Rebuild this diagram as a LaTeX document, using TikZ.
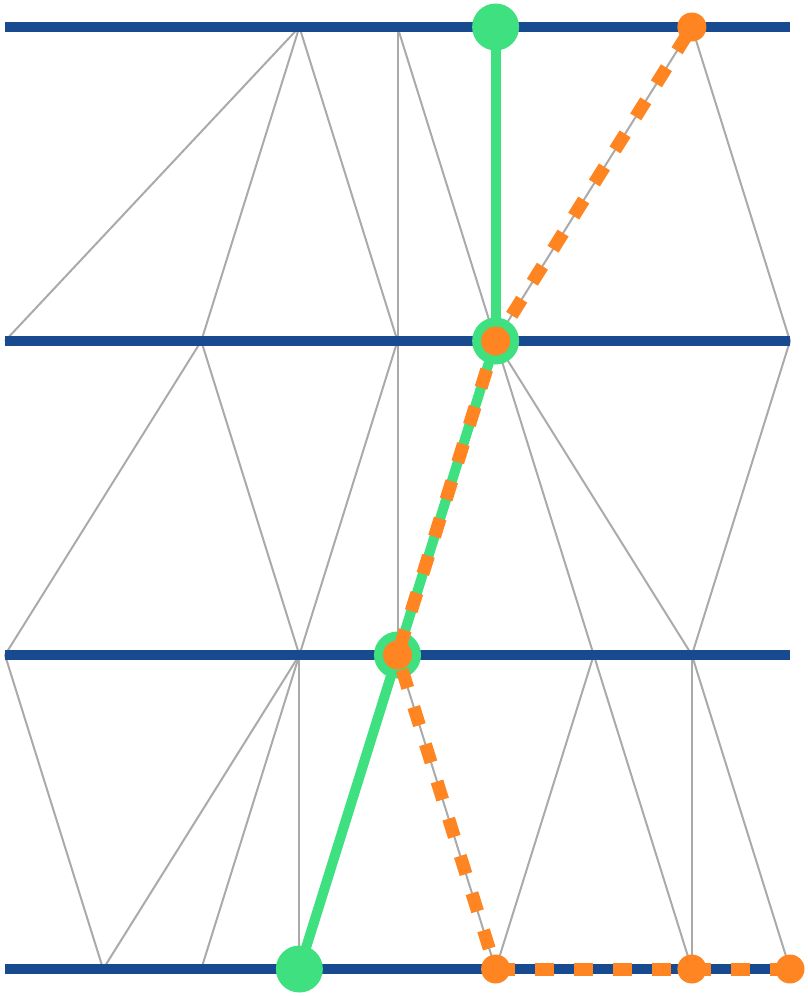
\documentclass[tikz,border=0pt]{standalone}
\definecolor{railblue}{HTML}{174A8F}
\definecolor{pathgreen}{HTML}{3EE07F}
\definecolor{pathorange}{HTML}{FF8522}
\definecolor{edgegray}{HTML}{AAAAAA}
\begin{document}
\begin{tikzpicture}[x=1pt,y=-1pt,
  edge/.style={draw=edgegray,line width=2pt},
  rail/.style={draw=railblue,line width=10pt},
  gpath/.style={draw=pathgreen,line width=10pt},
  opath/.style={draw=pathorange,line width=13pt,dash pattern=on 19pt off 20pt},
  gdot/.style={circle,fill=pathgreen,minimum size=47pt,inner sep=0pt},
  odot/.style={circle,fill=pathorange,minimum size=29pt,inner sep=0pt}]
\useasboundingbox (0,0) rectangle (808,996);
\foreach \r in {0,...,3}{
  \foreach \c in {0,...,8}{
    \coordinate (p\r\c) at ({5+98.125*\c},{27+314*\r});
  }
}
% gray edges
\draw[edge] (p03) -- (p10);
\draw[edge] (p03) -- (p12);
\draw[edge] (p03) -- (p14);
\draw[edge] (p04) -- (p14);
\draw[edge] (p04) -- (p15);
\draw[edge] (p07) -- (p15);
\draw[edge] (p07) -- (p18);
\draw[edge] (p12) -- (p20);
\draw[edge] (p12) -- (p23);
\draw[edge] (p14) -- (p23);
\draw[edge] (p14) -- (p24);
\draw[edge] (p15) -- (p26);
\draw[edge] (p15) -- (p27);
\draw[edge] (p18) -- (p27);
\draw[edge] (p20) -- (p31);
\draw[edge] (p23) -- (p31);
\draw[edge] (p23) -- (p32);
\draw[edge] (p23) -- (p33);
\draw[edge] (p24) -- (p35);
\draw[edge] (p26) -- (p35);
\draw[edge] (p26) -- (p37);
\draw[edge] (p27) -- (p37);
\draw[edge] (p27) -- (p38);
% rails
\foreach \r in {0,...,3}{
  \draw[rail] (p\r0) -- (p\r8);
}
% green path
\draw[gpath] (p05) -- (p15);
\draw[gpath] (p15) -- (p24);
\draw[gpath] (p24) -- (p33);
\node[gdot] (g05) at (p05) {};
\node[gdot] (g15) at (p15) {};
\node[gdot] (g24) at (p24) {};
\node[gdot] (g33) at (p33) {};
% orange path
\draw[opath,dash phase=30pt] (p07) -- (p15);
\draw[opath,dash phase=9pt] (p15) -- (p24);
\draw[opath,dash phase=23.5pt] (p24) -- (p35);
\draw[opath] (p35) -- (p37);
\draw[opath] (p37) -- (p38);
\node[odot] (o07) at (p07) {};
\node[odot] (o15) at (p15) {};
\node[odot] (o24) at (p24) {};
\node[odot] (o35) at (p35) {};
\node[odot] (o37) at (p37) {};
\node[odot] (o38) at (p38) {};
\end{tikzpicture}
\end{document}
